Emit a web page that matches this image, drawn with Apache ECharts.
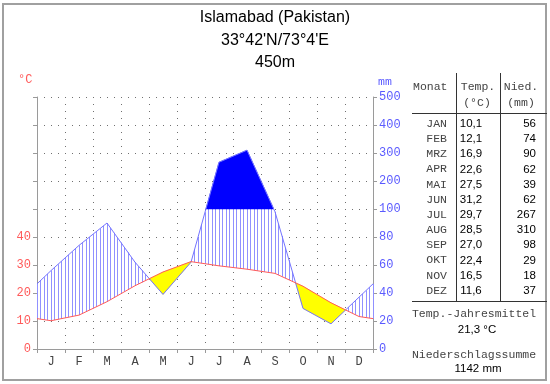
<!DOCTYPE html>
<html><head><meta charset="utf-8">
<script src="https://cdn.jsdelivr.net/npm/echarts@6/dist/echarts.min.js"></script>
<style>html,body{margin:0;padding:0;background:#fff}#c{width:550px;height:384px}</style>
</head><body><div id="c"></div>
<script>
const titleLines = ['Islamabad (Pakistan)', "33°42'N/73°4'E", '450m'];
const months = ['J','F','M','A','M','J','J','A','S','O','N','D'];
const monthNames = ['JAN','FEB','MRZ','APR','MAI','JUN','JUL','AUG','SEP','OKT','NOV','DEZ'];
const temperature = [10.1,12.1,16.9,22.6,27.5,31.2,29.7,28.5,27.0,22.4,16.5,11.6];
const precipitation = [56,74,90,62,39,62,267,310,98,29,18,37];
const tempTicks = [0,10,20,30,40];
const precipTicks = [0,20,40,60,80,100,200,300,400,500];

const MONO = 'Liberation Mono';
const SANS = 'Liberation Sans';
const RED = '#ff5a5a', BLUE_LBL = '#5a5aff';

function scaleP(p){ return p <= 100 ? p/2 : 50 + (p-100)/10; }
const tEdge = (temperature[0] + temperature[11]) / 2;
const pEdge = (precipitation[0] + precipitation[11]) / 2;
const X = [0].concat(months.map((m,i)=>i+0.5), [12]);
const TT = [tEdge].concat(temperature, [tEdge]);
const PP = [scaleP(pEdge)].concat(precipitation.map(scaleP), [scaleP(pEdge)]);

function interp(arr, x){
  for (let i=0;i<X.length-1;i++){
    if (x >= X[i] && x <= X[i+1]) {
      const s = (x - X[i])/(X[i+1]-X[i]);
      return arr[i] + s*(arr[i+1]-arr[i]);
    }
  }
  return arr[arr.length-1];
}

function renderItem(params, api){
  const children = [];
  const subs = [];
  for (let i=0;i<X.length-1;i++){
    const t0=TT[i],t1=TT[i+1],p0=PP[i],p1=PP[i+1];
    const cuts=[0,1];
    const d0=p0-t0,d1=p1-t1;
    if (d0*d1<0) cuts.push(d0/(d0-d1));
    if ((p0-50)*(p1-50)<0) cuts.push((p0-50)/(p0-p1));
    cuts.sort((a,b)=>a-b);
    for (let k=0;k<cuts.length-1;k++){
      const a=cuts[k],b=cuts[k+1];
      if (b-a<1e-9) continue;
      const xa=X[i]+a*(X[i+1]-X[i]), xb=X[i]+b*(X[i+1]-X[i]);
      subs.push({xa,xb,ta:t0+a*(t1-t0),tb:t0+b*(t1-t0),pa:p0+a*(p1-p0),pb:p0+b*(p1-p0)});
    }
  }
  function regions(test, up, lo, fill){
    let upper=[], lower=[];
    const flush=()=>{
      if (upper.length){
        const pts = upper.concat(lower.reverse()).map(q=>api.coord(q));
        children.push({type:'polygon', shape:{points:pts}, style:{fill:fill, stroke:fill, lineWidth:0.5}});
      }
      upper=[];lower=[];
    };
    subs.forEach(s=>{
      if (test(s)){
        if (!upper.length){ upper.push([s.xa, up(s,'a')]); lower.push([s.xa, lo(s,'a')]); }
        upper.push([s.xb, up(s,'b')]); lower.push([s.xb, lo(s,'b')]);
      } else flush();
    });
    flush();
  }
  for (let k=0;k<=96;k++){
    const x=k/8;
    const t=interp(TT,x), p=interp(PP,x);
    const top=Math.min(p,50);
    if (top>t){
      const c1=api.coord([x,t]), c2=api.coord([x,top]);
      const px=Math.round(c1[0]-0.5)+0.5;
      children.push({type:'line', shape:{x1:px,y1:c1[1],x2:px,y2:c2[1]}, style:{stroke:'#9090ff', lineWidth:1}});
    }
  }
  regions(s=>(s.pa+s.pb)/2 < (s.ta+s.tb)/2, (s,w)=>s['t'+w], (s,w)=>s['p'+w], '#ffff00');
  regions(s=>(s.pa+s.pb)/2 > 50, (s,w)=>s['p'+w], ()=>50, '#0000ff');
  return {type:'group', children};
}

const dotted = {color:'#707070', width:1, type:[1,6]};
const axisGray = '#9a9a9a';

const graphic = [
  {type:'rect', shape:{x:3,y:4,width:543,height:376}, style:{fill:null, stroke:'#a0a0a0', lineWidth:2}, silent:true}
];
titleLines.forEach((t,i)=>graphic.push({type:'text', x:275, y:18+i*22.5, style:{text:t, font:'16px '+SANS, fill:'#000', align:'center', verticalAlign:'middle'}}));
graphic.push({type:'text', x:18, y:80, style:{text:'°C', font:'12px '+MONO, fill:RED, verticalAlign:'middle'}});
graphic.push({type:'text', x:378, y:82, style:{text:'mm', font:'11.5px '+MONO, fill:BLUE_LBL, verticalAlign:'middle'}});

const tblLine = '#333';
graphic.push({type:'line', shape:{x1:456.5,y1:73,x2:456.5,y2:301}, style:{stroke:tblLine, lineWidth:1}});
graphic.push({type:'line', shape:{x1:500.5,y1:73,x2:500.5,y2:301}, style:{stroke:tblLine, lineWidth:1}});
graphic.push({type:'line', shape:{x1:412,y1:113.5,x2:547,y2:113.5}, style:{stroke:tblLine, lineWidth:1}});
graphic.push({type:'line', shape:{x1:412,y1:301.5,x2:547,y2:301.5}, style:{stroke:tblLine, lineWidth:1}});
const monoTxt = (t,x,y,align)=>({type:'text', x, y, style:{text:t, font:'11.5px '+MONO, fill:'#444', align, verticalAlign:'middle'}});
const sansTxt = (t,x,y,align)=>({type:'text', x, y, style:{text:t, font:'11.5px '+SANS, fill:'#000', align, verticalAlign:'middle'}});
graphic.push(monoTxt('Monat',413,87,'left'));
graphic.push(monoTxt('Temp.',478,87,'center'));
graphic.push(monoTxt('(°C)',477,103,'center'));
graphic.push(monoTxt('Nied.',521,87,'center'));
graphic.push(monoTxt('(mm)',521,103,'center'));
const fmt = v => v.toFixed(1).replace('.',',');
monthNames.forEach((m,i)=>{
  const y = 124 + i*15.15;
  graphic.push(monoTxt(m,447,y,'right'));
  graphic.push(sansTxt(fmt(temperature[i]),471,y,'center'));
  graphic.push(sansTxt(String(precipitation[i]),536,y,'right'));
});
const meanT = temperature.reduce((a,b)=>a+b,0)/temperature.length;
const sumP = precipitation.reduce((a,b)=>a+b,0);
graphic.push(monoTxt('Temp.-Jahresmittel',474,314,'center'));
graphic.push(sansTxt(fmt(meanT)+' °C',477,330,'center'));
graphic.push(monoTxt('Niederschlagssumme',474,355,'center'));
graphic.push(sansTxt(sumP+' mm',478,369,'center'));

const chart = echarts.init(document.getElementById('c'), null, {renderer:'canvas'});
chart.setOption({
  animation:false,
  backgroundColor:'#fff',
  grid:{left:37, right:177, top:97, bottom:35, containLabel:false},
  xAxis:[
    {type:'category', data:months, boundaryGap:true,
     axisLine:{show:true, lineStyle:{color:axisGray}},
     axisTick:{show:true, length:4, interval:0, lineStyle:{color:axisGray}},
     axisLabel:{interval:0, fontFamily:MONO, fontSize:12, color:'#444', margin:7},
     splitLine:{show:true, interval:0, lineStyle:dotted}},
    {type:'value', min:0, max:12, show:false}
  ],
  yAxis:[
    {type:'value', min:0, max:90, interval:10, position:'left',
     axisLine:{show:true, lineStyle:{color:axisGray}},
     axisTick:{show:true, length:4, lineStyle:{color:axisGray}},
     axisLabel:{formatter:v=>tempTicks.includes(v)?String(v):'', fontFamily:MONO, fontSize:12, color:RED, margin:6},
     splitLine:{show:true, lineStyle:dotted}},
    {type:'value', min:0, max:90, interval:10, position:'right',
     axisLine:{show:true, lineStyle:{color:axisGray}},
     axisTick:{show:true, length:4, lineStyle:{color:axisGray}},
     axisLabel:{formatter:v=>{const p=precipTicks[Math.round(v/10)];return p===undefined?'':String(p);}, fontFamily:MONO, fontSize:12, color:BLUE_LBL, margin:6},
     splitLine:{show:false}}
  ],
  series:[
    {type:'custom', xAxisIndex:1, yAxisIndex:0, data:[[0,0]], renderItem, z:1, silent:true},
    {type:'line', xAxisIndex:1, yAxisIndex:0, data:X.map((x,i)=>[x,PP[i]]), symbol:'none', lineStyle:{color:'#7474ff', width:1}, z:2, silent:true},
    {type:'line', xAxisIndex:1, yAxisIndex:0, data:X.map((x,i)=>[x,TT[i]]), symbol:'none', lineStyle:{color:RED, width:1}, z:3, silent:true}
  ],
  graphic
});
</script></body></html>
